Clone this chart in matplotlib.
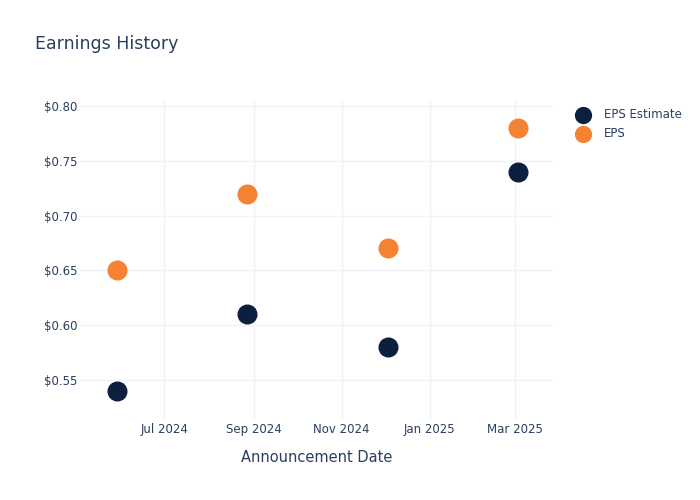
import pandas as pd
import matplotlib.pyplot as plt
import matplotlib.dates as mdates

dates = pd.to_datetime(['2024-05-29', '2024-08-27', '2024-12-03', '2025-03-03'])
eps_estimate = [0.54, 0.61, 0.58, 0.74]
eps_actual = [0.65, 0.72, 0.67, 0.78]

text_color = '#2a3f5f'
grid_color = '#f0f3f9'

fig = plt.figure(figsize=(7, 5), dpi=100)
ax = fig.add_axes([80 / 700, 80 / 500, 473 / 700, 320 / 500])

ax.scatter(dates, eps_estimate, s=180, color='#0d1f3f', label='EPS Estimate', zorder=3)
ax.scatter(dates, eps_actual, s=180, color='#f58232', label='EPS', zorder=3)

ax.set_xlim(pd.Timestamp('2024-05-03 12:00'), pd.Timestamp('2025-03-27 12:00'))
ax.set_ylim(0.5135, 0.8055)
ax.set_yticks([0.55, 0.60, 0.65, 0.70, 0.75, 0.80])
ax.yaxis.set_major_formatter(plt.FuncFormatter(lambda v, p: f'${v:.2f}'))
ax.xaxis.set_major_locator(mdates.MonthLocator(bymonth=[1, 3, 7, 9, 11]))
ax.xaxis.set_major_formatter(mdates.DateFormatter('%b %Y'))

ax.grid(True, color=grid_color, linewidth=1)
ax.set_axisbelow(True)
for s in ax.spines.values():
    s.set_visible(False)
ax.tick_params(length=0, labelsize=8.5, colors=text_color)
ax.tick_params(axis='y', pad=2)
ax.tick_params(axis='x', pad=2)

ax.set_xlabel('Announcement Date', fontsize=10.5, color=text_color, labelpad=10)
fig.text(35 / 700, 1 - 44 / 500, 'Earnings History', fontsize=12.5, color=text_color, va='center')

leg = ax.legend(loc='upper left', bbox_to_anchor=(1.015, 1.008), frameon=False,
                fontsize=8.5, labelcolor=text_color, markerscale=0.85,
                handletextpad=0.8, labelspacing=0.5)

fig.savefig('out.png', dpi=100)
